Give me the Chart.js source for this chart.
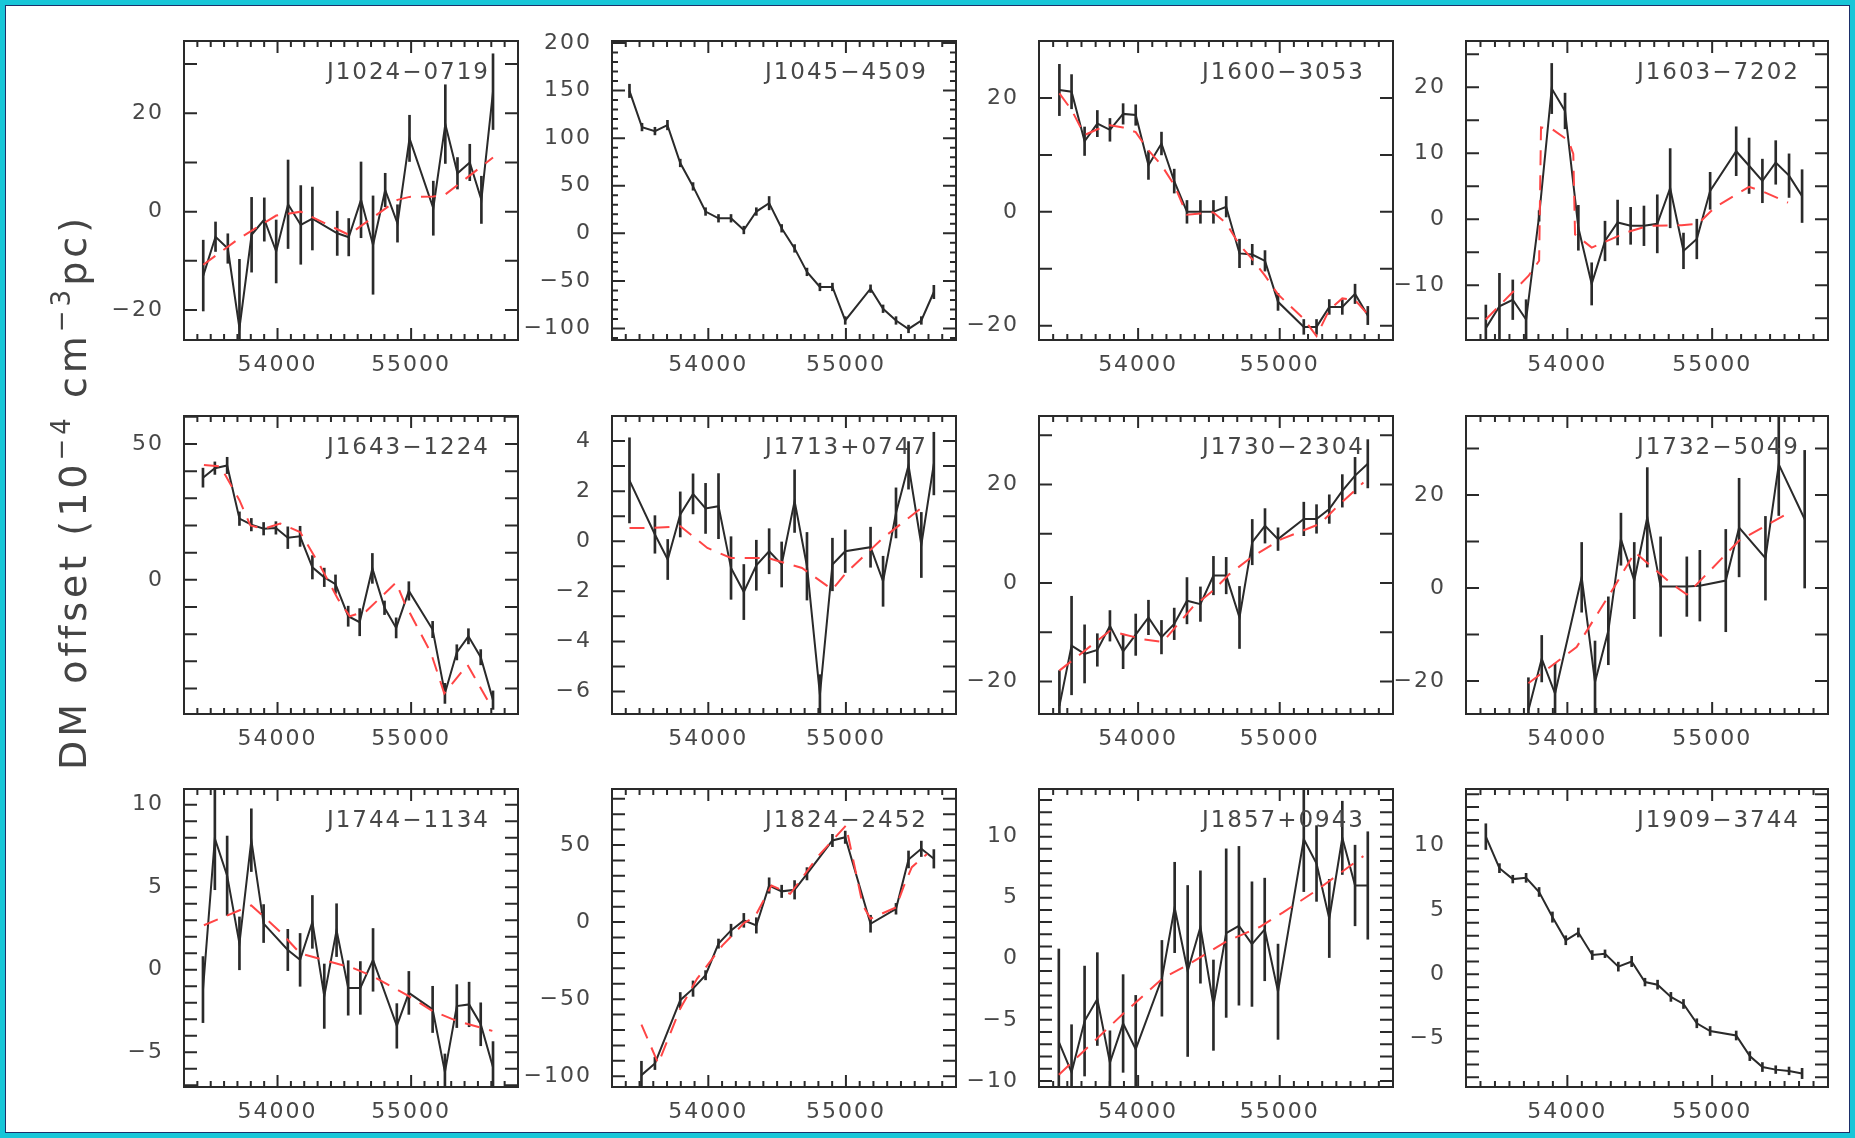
<!DOCTYPE html>
<html>
<head>
<meta charset="utf-8">
<script src="https://cdn.jsdelivr.net/npm/chart.js@4.4.1/dist/chart.umd.min.js"></script>
<style>
  html, body { margin: 0; padding: 0; background: #fff; }
  #page { position: relative; width: 1855px; height: 1138px; overflow: hidden; background: #fff; }
  #frame { position: absolute; inset: 0; border: 5px solid #17c6d8; box-shadow: inset 0 0 0 1px #1d2f6a; pointer-events: none; z-index: 5; }
  canvas.panel { position: absolute; }
  #ytitle { position: absolute; left: 73px; top: 492px; transform: translate(-50%, -50%) rotate(-90deg);
            font-family: 'DejaVu Sans'; font-size: 38px; letter-spacing: 4px; color: #444; white-space: nowrap; z-index: 4; }
  #ytitle sup { font-size: 26px; vertical-align: 0.6em; line-height: 0; }
</style>
</head>
<body>
<div id="page">
  <div id="ytitle">DM offset (10<sup>−4</sup> cm<sup>−3</sup>pc)</div>
  <div id="frame"></div>
</div>
<script>
// shared MJD range of every panel
const xMin = 53300, xMax = 55800;

// J1024-0719
const j1024Mjd = [53444, 53536, 53628, 53715, 53806, 53901, 53990, 54079, 54174, 54261, 54447, 54533, 54625, 54715, 54806, 54898, 54988, 55166, 55256, 55347, 55439, 55526, 55613];
const j1024Dm  = [-13.0, -5.1, -7.5, -23.7, -4.7, -1.6, -8.1, 1.5, -2.7, -1.4, -4.4, -5.2, 2.4, -6.8, 4.4, -2.4, 14.9, 0.7, 17.8, 7.8, 10.0, 2.4, 24.4];
const j1024Err = [7.2, 3.0, 3.0, 14.0, 7.6, 4.4, 6.4, 9.0, 8.0, 6.4, 4.5, 3.8, 7.7, 10.0, 3.4, 3.8, 4.7, 5.5, 8.0, 3.2, 3.7, 4.8, 7.7];
const j1024FitMjd = [53444, 53715, 53990, 54174, 54533, 54898, 54988, 55166, 55256, 55613];
const j1024Fit    = [-10.8, -5.4, -0.8, 0.0, -4.7, 2.4, 3.0, 3.1, 3.5, 11.0];

// J1045-4509
const j1045Mjd = [53427, 53518, 53612, 53703, 53796, 53889, 53980, 54074, 54165, 54258, 54349, 54442, 54533, 54627, 54717, 54811, 54902, 54995, 55179, 55270, 55364, 55455, 55548, 55639];
const j1045Dm  = [149.6, 111.6, 107.4, 113.7, 73.9, 49.3, 22.9, 15.8, 15.8, 3.5, 22.9, 31.7, 5.3, -15.8, -40.5, -56.3, -56.3, -91.5, -58.1, -79.2, -91.5, -100.4, -91.5, -61.6];
const j1045Err = [7, 4, 4, 5, 4, 4, 4, 4, 4, 4, 4, 7, 4, 4, 4, 4, 4, 4, 4, 4, 4, 4, 4, 7];

// J1600-3053
const j1600Mjd = [53444, 53530, 53622, 53712, 53801, 53894, 53983, 54073, 54165, 54255, 54345, 54440, 54532, 54622, 54716, 54806, 54896, 54988, 55170, 55260, 55350, 55442, 55532, 55622];
const j1600Dm  = [21.4, 21.1, 12.4, 15.5, 14.4, 17.2, 17.0, 8.2, 12.0, 5.4, 0.0, 0.0, 0.0, 0.9, -7.3, -7.5, -8.6, -15.8, -20.2, -20.2, -16.7, -16.7, -14.4, -18.2];
const j1600Err = [4.5, 3.0, 2.5, 2.3, 2.0, 1.8, 1.8, 2.5, 2.0, 2.1, 2.0, 2.0, 2.0, 1.8, 2.5, 1.8, 1.8, 1.5, 1.3, 1.3, 1.3, 1.3, 1.7, 1.6];
const j1600Fit = [20.8, 17.9, 13.5, 14.5, 15.2, 14.8, 14.0, 10.8, 8.2, 4.7, -0.5, -0.3, -0.1, -2.0, -5.8, -8.3, -11.2, -14.5, -18.8, -21.8, -17.2, -15.2, -15.5, -18.0];

// J1603-7202
const j1603Mjd = [53437, 53531, 53623, 53715, 53805, 53892, 53984, 54076, 54168, 54260, 54347, 54437, 54529, 54621, 54710, 54802, 54894, 54986, 55166, 55255, 55347, 55439, 55531, 55621];
const j1603Dm  = [-16.5, -13.2, -12.2, -15.2, 0.5, 19.8, 16.4, -1.3, -9.8, -3.3, -0.5, -1.0, -1.0, -0.7, 4.7, -4.8, -3.0, 4.3, 10.3, 8.1, 5.8, 8.6, 6.6, 3.5];
const j1603Err = [3.5, 5.0, 3.0, 3.0, 0.8, 3.8, 2.7, 3.4, 3.2, 3.0, 3.4, 2.8, 3.0, 4.4, 6.0, 2.7, 3.0, 2.8, 3.7, 4.2, 3.3, 3.3, 3.3, 4.0];
const j1603FitMjd = [53437, 53731, 53805, 53818, 53892, 54007, 54041, 54053, 54168, 54421, 54559, 54789, 54903, 55018, 55255, 55340, 55524];
const j1603Fit    = [-15.2, -8.6, -6.3, 13.9, 13.7, 11.9, 9.9, -2.3, -4.3, -1.9, -1.0, -0.9, -0.7, 1.8, 4.9, 4.3, 2.5];

// J1643-1224
const j1643Mjd = [53442, 53531, 53623, 53715, 53804, 53896, 53988, 54077, 54169, 54261, 54350, 54434, 54529, 54615, 54710, 54801, 54888, 54983, 55161, 55253, 55342, 55429, 55521, 55613];
const j1643Dm  = [37.6, 41.1, 42.1, 22.5, 20.3, 18.8, 19.1, 15.5, 16.0, 4.6, 0.9, -1.6, -13.4, -15.6, 4.2, -10.3, -17.7, -4.1, -18.3, -41.8, -26.7, -20.8, -28.5, -44.3];
const j1643Err = [3.5, 2.3, 3.0, 2.5, 2.3, 2.3, 2.3, 4.0, 3.7, 4.3, 3.4, 3.4, 3.7, 5.0, 5.5, 2.5, 3.7, 3.4, 3.0, 3.7, 2.8, 2.8, 2.8, 3.4];
const j1643FitMjd = [53449, 53573, 53715, 53797, 53896, 54020, 54169, 54318, 54454, 54541, 54665, 54888, 54950, 55149, 55248, 55422, 55608];
const j1643Fit    = [42.3, 41.7, 29.3, 20.0, 18.8, 20.7, 17.6, 5.2, -7.2, -13.4, -11.5, -1.0, -8.4, -27.0, -41.8, -31.3, -47.4];

// J1713+0747
const j1713Mjd = [53427, 53612, 53705, 53796, 53889, 53980, 54074, 54165, 54258, 54349, 54442, 54533, 54627, 54717, 54811, 54902, 54995, 55179, 55270, 55364, 55455, 55548, 55639];
const j1713Dm  = [2.43, 0.27, -0.73, 1.07, 1.89, 1.31, 1.40, -1.07, -2.03, -0.96, -0.40, -0.93, 1.60, -1.0, -6.13, -0.93, -0.40, -0.24, -1.60, 1.13, 3.03, -0.15, 3.10];
const j1713Err = [1.7, 0.75, 0.8, 0.9, 0.8, 1.0, 1.3, 1.25, 1.1, 1.0, 0.9, 0.9, 1.25, 1.35, 0.8, 1.05, 0.85, 0.8, 1.0, 1.0, 0.95, 1.3, 1.25];
const j1713FitMjd = [53427, 53600, 53796, 53993, 54165, 54435, 54681, 54902, 55000, 55270, 55548];
const j1713Fit    = [0.53, 0.53, 0.60, -0.27, -0.67, -0.67, -1.07, -1.93, -1.27, 0.13, 1.33];

// J1730-2304
const j1730Mjd = [53444, 53530, 53622, 53712, 53801, 53894, 53983, 54073, 54165, 54255, 54345, 54440, 54532, 54622, 54716, 54806, 54896, 54988, 55170, 55260, 55350, 55442, 55532, 55622];
const j1730Dm  = [-25.0, -12.7, -14.4, -13.6, -8.7, -13.9, -10.5, -7.0, -11.0, -8.3, -3.6, -4.3, 1.5, 1.5, -7.0, 8.3, 11.6, 8.9, 13.0, 13.0, 15.0, 18.7, 21.8, 24.2];
const j1730Err = [7.2, 10.0, 5.9, 3.3, 3.1, 3.5, 4.2, 3.5, 3.4, 3.2, 4.7, 3.5, 3.9, 3.7, 6.3, 4.6, 3.5, 2.3, 3.4, 2.9, 2.9, 3.3, 3.7, 4.9];
const j1730FitMjd = [53444, 53801, 53894, 54031, 54173, 54385, 54527, 54645, 54799, 55012, 55284, 55402, 55591];
const j1730Fit    = [-17.8, -9.7, -10.4, -11.4, -12.0, -4.9, -1.6, 1.8, 5.2, 8.9, 12.0, 15.4, 20.4];

// J1732-5049
const j1732Mjd = [53731, 53823, 53915, 54099, 54191, 54283, 54370, 54462, 54552, 54644, 54825, 54915, 55094, 55186, 55368, 55460, 55639];
const j1732Dm  = [-26.3, -15.2, -22.7, 2.3, -20.2, -9.2, 10.5, 1.6, 15.2, 0.3, 0.3, 0.5, 1.6, 13.0, 6.4, 26.6, 14.8];
const j1732Err = [7.0, 5.0, 6.5, 7.5, 8.8, 7.3, 5.6, 8.2, 10.7, 10.7, 6.4, 7.6, 11.0, 10.6, 9.0, 11.0, 14.8];
const j1732FitMjd = [53731, 54064, 54329, 54467, 54708, 54825, 55186, 55547];
const j1732Fit    = [-20.5, -12.7, 0.5, 7.7, 1.2, -1.4, 10.2, 16.5];

// J1744-1134
const j1744Mjd = [53442, 53531, 53623, 53715, 53804, 53896, 54077, 54169, 54261, 54350, 54442, 54529, 54620, 54715, 54893, 54983, 55161, 55253, 55342, 55434, 55521, 55613];
const j1744Dm  = [-1.2, 7.95, 5.7, 1.6, 7.85, 2.8, 1.2, 0.6, 2.9, -1.6, 2.4, -1.1, -1.1, 0.6, -3.4, -1.4, -2.4, -6.2, -2.2, -2.1, -3.3, -5.9];
const j1744Err = [2.0, 3.1, 2.4, 1.6, 1.9, 1.15, 1.25, 1.6, 1.6, 1.95, 1.6, 1.65, 1.6, 1.9, 1.35, 1.3, 1.4, 1.1, 1.3, 1.35, 1.3, 1.55];
const j1744FitMjd = [53449, 53804, 54020, 54169, 54566, 54715, 54983, 55161, 55342, 55608];
const j1744Fit    = [2.7, 3.9, 2.3, 1.0, 0.1, -0.4, -1.6, -2.5, -3.1, -3.7];

// J1824-2452
const j1824Mjd = [53514, 53612, 53796, 53889, 53980, 54074, 54165, 54258, 54349, 54442, 54533, 54627, 54717, 54902, 54995, 55179, 55364, 55455, 55548, 55639];
const j1824Dm  = [-99.3, -91.7, -50.7, -43.2, -34.5, -14.0, -5.4, 1.1, -2.2, 23.7, 19.9, 20.9, 31.3, 52.9, 55.0, -1.1, 8.6, 40.6, 47.5, 41.0];
const j1824Err = [9, 4, 5, 5, 3, 3, 4, 4.5, 5, 5, 4, 6, 4, 4, 4, 5.5, 3.5, 5.5, 5, 6];
const j1824FitMjd = [53514, 53636, 53796, 53919, 54103, 54263, 54337, 54459, 54595, 54803, 55000, 55123, 55179, 55364, 55418, 55479, 55590];
const j1824Fit    = [-66.5, -91.7, -56.1, -36.7, -15.1, -0.4, 3.2, 23.7, 18.3, 43.2, 62.6, 10.8, 2.2, 9.5, 22.7, 35.6, 44.2];

// J1857+0943
const j1857Mjd = [53440, 53530, 53622, 53712, 53801, 53894, 53983, 54168, 54258, 54350, 54440, 54532, 54622, 54712, 54804, 54894, 54988, 55170, 55260, 55350, 55442, 55532, 55622];
const j1857Dm  = [-6.8, -9.3, -5.1, -3.3, -8.5, -5.3, -7.4, -1.6, 4.2, -1.0, 2.6, -3.8, 2.1, 2.7, 1.2, 2.4, -2.7, 9.8, 7.8, 3.3, 9.9, 6.0, 6.0];
const j1857Err = [7.6, 3.9, 4.5, 3.8, 2.6, 4.0, 4.4, 3.1, 3.7, 7.0, 4.6, 3.7, 6.9, 6.5, 5.1, 4.2, 3.9, 4.3, 3.1, 3.2, 3.0, 3.3, 4.4];
const j1857FitMjd = [53440, 53894, 54173, 54350, 54622, 54858, 55024, 55260, 55591];
const j1857Fit    = [-9.5, -4.5, -1.6, -0.5, 1.4, 2.6, 3.8, 5.6, 8.4];

// J1909-3744
const j1909Mjd = [53437, 53531, 53623, 53715, 53805, 53897, 53989, 54076, 54172, 54260, 54352, 54444, 54536, 54623, 54715, 54802, 54894, 54986, 55166, 55260, 55347, 55439, 55531, 55621];
const j1909Dm  = [10.7, 8.25, 7.4, 7.5, 6.4, 4.45, 2.65, 3.25, 1.5, 1.6, 0.6, 1.0, -0.6, -0.8, -1.75, -2.3, -3.8, -4.4, -4.75, -6.35, -7.2, -7.4, -7.5, -7.7];
const j1909Err = [1.0, 0.35, 0.3, 0.35, 0.35, 0.4, 0.35, 0.35, 0.35, 0.3, 0.35, 0.4, 0.3, 0.35, 0.35, 0.35, 0.35, 0.35, 0.35, 0.35, 0.35, 0.3, 0.3, 0.4];

// one entry per panel, row by row; y axis limits and tick spacing per pulsar
const panels = [
  { name: 'J1024−0719', mjd: j1024Mjd, dm: j1024Dm, err: j1024Err, fitMjd: j1024FitMjd, fit: j1024Fit, yMin: -26.1, yMax: 34.7, step: 10, major: 10, label: 20 },
  { name: 'J1045−4509', mjd: j1045Mjd, dm: j1045Dm, err: j1045Err, fitMjd: null, fit: null, yMin: -112, yMax: 202, step: 10, major: 50, label: 50 },
  { name: 'J1600−3053', mjd: j1600Mjd, dm: j1600Dm, err: j1600Err, fitMjd: j1600Mjd, fit: j1600Fit, yMin: -22.5, yMax: 30, step: 10, major: 10, label: 20 },
  { name: 'J1603−7202', mjd: j1603Mjd, dm: j1603Dm, err: j1603Err, fitMjd: j1603FitMjd, fit: j1603Fit, yMin: -18.3, yMax: 27, step: 5, major: 5, label: 10 },
  { name: 'J1643−1224', mjd: j1643Mjd, dm: j1643Dm, err: j1643Err, fitMjd: j1643FitMjd, fit: j1643Fit, yMin: -49.4, yMax: 60.3, step: 10, major: 10, label: 50 },
  { name: 'J1713+0747', mjd: j1713Mjd, dm: j1713Dm, err: j1713Err, fitMjd: j1713FitMjd, fit: j1713Fit, yMin: -6.9, yMax: 5.0, step: 1, major: 1, label: 2 },
  { name: 'J1730−2304', mjd: j1730Mjd, dm: j1730Dm, err: j1730Err, fitMjd: j1730FitMjd, fit: j1730Fit, yMin: -26.6, yMax: 33.9, step: 10, major: 10, label: 20 },
  { name: 'J1732−5049', mjd: j1732Mjd, dm: j1732Dm, err: j1732Err, fitMjd: j1732FitMjd, fit: j1732Fit, yMin: -27.1, yMax: 37, step: 10, major: 10, label: 20 },
  { name: 'J1744−1134', mjd: j1744Mjd, dm: j1744Dm, err: j1744Err, fitMjd: j1744FitMjd, fit: j1744Fit, yMin: -7.1, yMax: 10.95, step: 1, major: 1, label: 5 },
  { name: 'J1824−2452', mjd: j1824Mjd, dm: j1824Dm, err: j1824Err, fitMjd: j1824FitMjd, fit: j1824Fit, yMin: -107, yMax: 86.3, step: 10, major: 10, label: 50 },
  { name: 'J1857+0943', mjd: j1857Mjd, dm: j1857Dm, err: j1857Err, fitMjd: j1857FitMjd, fit: j1857Fit, yMin: -10.5, yMax: 13.9, step: 1, major: 1, label: 5 },
  { name: 'J1909−3744', mjd: j1909Mjd, dm: j1909Dm, err: j1909Err, fitMjd: null, fit: null, yMin: -8.75, yMax: 14.4, step: 1, major: 1, label: 5 }
];

// plot boxes on the page
const colLeft = [184, 612, 1039, 1466];
const colWidth = [334, 344, 354, 362];
const rowTop = [41, 416, 789];
const rowHeight = [299, 298, 298];
// room around each box; the top has to hold half a label plus the tick padding
const PAD_L = 100, PAD_R = 20, PAD_T = 40, PAD_B = 50;

const INK = '#2a2a2a';
const TEXT = '#474747';
const FONT = 'DejaVu Sans';

const isMult = (v, s) => Math.abs(v / s - Math.round(v / s)) < 1e-6;
const fmt = v => String(Math.round(v)).replace('-', '\u2212');

// box around the plot with inward ticks on all four sides, plus the pulsar name
const frameTicks = {
  id: 'frameTicks',
  beforeDraw(chart) {
    chart.ctx.letterSpacing = '2px';
  },
  afterDatasetsDraw(chart, args, opts) {
    const { ctx, chartArea: a } = chart;
    const x = chart.scales.x, y = chart.scales.y;
    ctx.save();
    ctx.strokeStyle = INK;
    ctx.lineWidth = 2;
    ctx.beginPath();
    for (let k = Math.ceil(x.min / 100); k * 100 <= x.max; k++) {
      const px = x.getPixelForValue(k * 100);
      const len = k % 10 === 0 ? 12 : 6;
      ctx.moveTo(px, a.bottom); ctx.lineTo(px, a.bottom - len);
      ctx.moveTo(px, a.top); ctx.lineTo(px, a.top + len);
    }
    for (let k = Math.ceil(y.min / opts.step - 1e-9); k * opts.step <= y.max + 1e-9; k++) {
      const v = k * opts.step;
      const py = y.getPixelForValue(v);
      const len = isMult(v, opts.major) ? 13 : 6;
      ctx.moveTo(a.left, py); ctx.lineTo(a.left + len, py);
      ctx.moveTo(a.right, py); ctx.lineTo(a.right - len, py);
    }
    ctx.stroke();
    ctx.strokeRect(a.left, a.top, a.right - a.left, a.bottom - a.top);
    ctx.font = '23px "' + FONT + '"';
    ctx.fillStyle = TEXT;
    ctx.textAlign = 'right';
    ctx.textBaseline = 'alphabetic';
    ctx.fillText(opts.name, a.right - 28, a.top + 38);
    ctx.restore();
  }
};

const page = document.getElementById('page');

panels.forEach((p, i) => {
  const r = Math.floor(i / 4), c = i % 4;
  const canvas = document.createElement('canvas');
  canvas.className = 'panel';
  const w = colWidth[c] + PAD_L + PAD_R;
  const h = rowHeight[r] + PAD_T + PAD_B;
  canvas.width = w;
  canvas.height = h;
  canvas.style.left = (colLeft[c] - PAD_L) + 'px';
  canvas.style.top = (rowTop[r] - PAD_T) + 'px';
  canvas.style.width = w + 'px';
  canvas.style.height = h + 'px';
  page.appendChild(canvas);

  const datasets = [];
  if (p.fit) {
    datasets.push({
      type: 'line',
      data: p.fitMjd.map((m, j) => ({ x: m, y: p.fit[j] })),
      borderColor: '#ff4545',
      borderWidth: 2,
      borderDash: [15, 10],
      pointRadius: 0,
      tension: 0,
      order: 0
    });
  }
  datasets.push({
    type: 'line',
    data: p.mjd.map((m, j) => ({ x: m, y: p.dm[j] })),
    borderColor: INK,
    borderWidth: 2,
    pointRadius: 0,
    tension: 0,
    order: 1
  });
  // error bars as thin floating bars
  datasets.push({
    type: 'bar',
    data: p.mjd.map((m, j) => ({ x: m, y: [p.dm[j] - p.err[j], p.dm[j] + p.err[j]] })),
    backgroundColor: INK,
    borderWidth: 0,
    barThickness: 2,
    order: 2
  });

  new Chart(canvas, {
    type: 'line',
    data: { datasets },
    plugins: [frameTicks],
    options: {
      responsive: false,
      animation: false,
      events: [],
      layout: { padding: { top: PAD_T, right: PAD_R, left: 0, bottom: 0 } },
      plugins: {
        legend: { display: false },
        tooltip: { enabled: false },
        frameTicks: { name: p.name, step: p.step, major: p.major }
      },
      scales: {
        x: {
          type: 'linear',
          min: xMin,
          max: xMax,
          offset: false,
          grid: { display: false, drawTicks: false },
          border: { display: false },
          ticks: {
            stepSize: 100,
            includeBounds: false,
            autoSkip: false,
            maxRotation: 0,
            padding: 12,
            color: TEXT,
            font: { family: FONT, size: 22 },
            callback: v => (isMult(v, 1000) ? String(Math.round(v)) : '')
          },
          afterFit: s => { s.height = PAD_B; }
        },
        y: {
          type: 'linear',
          min: p.yMin,
          max: p.yMax,
          grid: { display: false, drawTicks: false },
          border: { display: false },
          ticks: {
            stepSize: p.step,
            includeBounds: false,
            autoSkip: false,
            padding: 20,
            color: TEXT,
            font: { family: FONT, size: 22 },
            callback: v => (isMult(v, p.label) ? fmt(v) : '')
          },
          afterFit: s => { s.width = PAD_L; }
        }
      }
    }
  });
});
</script>
</body>
</html>
